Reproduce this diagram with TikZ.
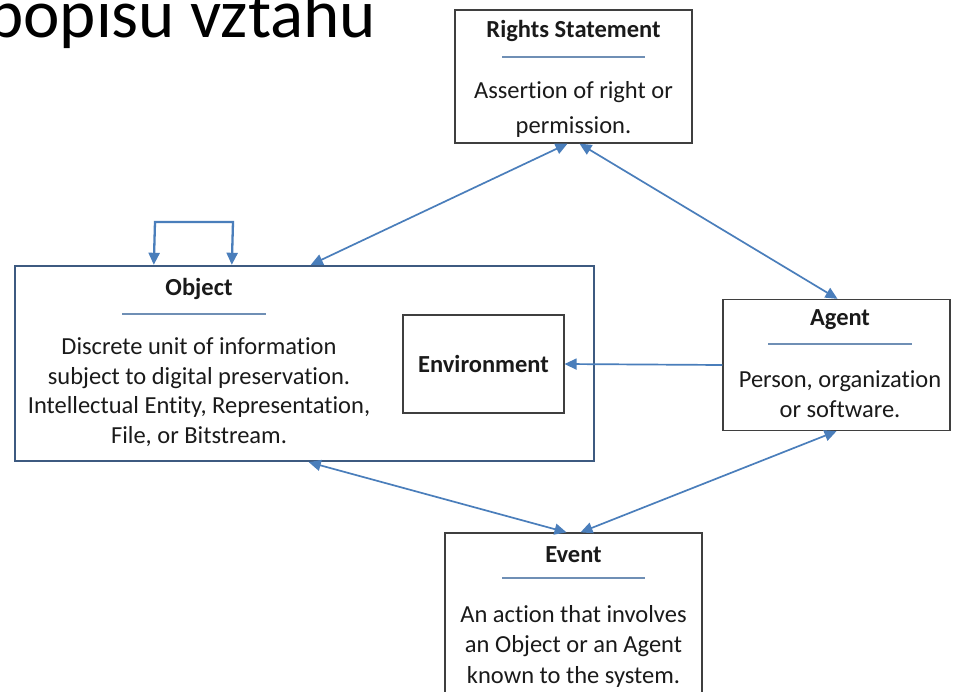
\documentclass[tikz,border=0pt]{standalone}
\usepackage{fontspec}
\setmainfont{Carlito}[Ligatures=NoCommon]
\usetikzlibrary{arrows.meta,calc}
\definecolor{arrowblue}{HTML}{4A7EBB}
\definecolor{rulecol}{HTML}{6F8FB5}
\definecolor{boxgray}{HTML}{3F3F3F}
\definecolor{objborder}{HTML}{3D5A80}
\definecolor{txt}{HTML}{1A1A1A}
\tikzset{
  box/.style={draw=boxgray, line width=1.3pt, inner sep=0pt, fill=none},
  objbox/.style={draw=objborder, line width=2.4pt, inner sep=0pt},
  ttl/.style={font=\fontsize{24.5}{28}\selectfont\bfseries, text=txt, inner sep=0pt},
  body/.style={font=\fontsize{24.5}{#1}\selectfont, text=txt, align=center, inner sep=0pt},
  divider/.style={draw=rulecol, line width=1.3pt},
  conn/.style={draw=arrowblue, line width=1.7pt, {Triangle[length=12pt,width=11pt]}-{Triangle[length=12pt,width=11pt]}},
  conn1/.style={draw=arrowblue, line width=1.7pt, -{Triangle[length=12pt,width=11pt]}},
}
\begin{document}
\begin{tikzpicture}[x=1pt,y=-1pt]
\useasboundingbox[fill=white] (0,0) rectangle (961,691);

% title
\node[anchor=base west, inner sep=0pt, font=\fontsize{69}{72}\selectfont, text=black] (title) at (-13,37) {popisu vztahu};

% boxes
\node[box, minimum width=237pt, minimum height=133pt] (rights) at (573.5,76.5) {};
\node[objbox, minimum width=579pt, minimum height=195pt] (obj) at (304.5,363.5) {};
\node[box, line width=1.1pt, minimum width=161pt, minimum height=98pt] (env) at (483.5,364) {};
\node[box, minimum width=227pt, minimum height=131pt] (agent) at (836.5,365) {};
\node[box, minimum width=257pt, minimum height=170pt] (event) at (573.5,618) {};

% Rights text
\node[ttl] (rtitle) at (573.5,31) {Rights Statement};
\draw[divider] (502,57) -- (645,57);
\node[body=35pt] (rtext) at (573.5,109) {Assertion of right or\\permission.};

% Object text
\node[ttl] (otitle) at (199,289) {Object};
\draw[divider] (122,314) -- (266,314);
\node[body=29.5pt] (otext) at (199,392) {Discrete unit of information\\subject to digital preservation.\\Intellectual Entity, Representation,\\File, or Bitstream.};

% Environment
\node[ttl] (etitle) at (env.center) {Environment};

% Agent text
\node[ttl] (atitle) at (840,320) {Agent};
\draw[divider] (768,344) -- (912,344);
\node[body=30pt] (atext) at (840,394) {Person, organization\\or software.};

% Event text
\node[ttl] (evtitle) at (573.5,555) {Event};
\draw[divider] (502,578) -- (645,578);
\node[body=30.5pt] (evtext) at (573.5,646) {An action that involves\\an Object or an Agent\\known to the system.};

% connectors
\coordinate (loopA) at (155,222);
\coordinate (loopB) at (233,222);
\draw[conn, line width=2.3pt] ([xshift=140pt]obj.north west) -- (loopA) -- (loopB) -- ([xshift=218pt]obj.north west);

\draw[conn] ([xshift=297pt]obj.north west) -- ([xshift=-6pt]rights.south);
\draw[conn] ([xshift=6pt]rights.south) -- ([xshift=1pt]agent.north);
\draw[conn1] (agent.west) -- (env.east);
\draw[conn] ([xshift=295pt]obj.south west) -- ([xshift=-7pt]event.north);
\draw[conn] ([xshift=7pt]event.north) -- ([xshift=0pt]agent.south);
\end{tikzpicture}
\end{document}
